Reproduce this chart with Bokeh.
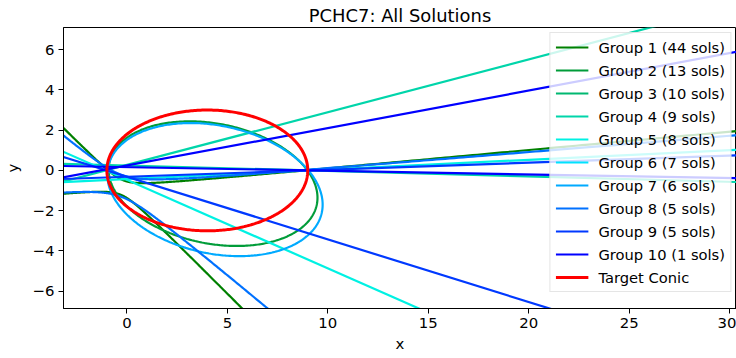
import numpy as np
from bokeh.plotting import figure
from bokeh.models import Range1d, FixedTicker, Legend, LegendItem
from bokeh.embed import file_html
from bokeh.resources import INLINE

TITLE = "PCHC7: All Solutions"
X_LABEL = "x"
Y_LABEL = "y"
X_TICKS = [0, 5, 10, 15, 20, 25, 30]
Y_TICKS = [-6, -4, -2, 0, 2, 4, 6]

GROUP_LABELS = ["Group 1 (44 sols)", "Group 2 (13 sols)", "Group 3 (10 sols)",
                "Group 4 (9 sols)", "Group 5 (8 sols)", "Group 6 (7 sols)",
                "Group 7 (6 sols)", "Group 8 (5 sols)", "Group 9 (5 sols)",
                "Group 10 (1 sols)"]
GROUP_COLORS = ["#008000", "#009c39", "#00b871", "#00d5aa", "#00f1e3",
                "#00e3ff", "#00aaff", "#0071ff", "#0039ff", "#0000ff"]

# degenerate (line-pair) solutions: y = slope * x + intercept
LINE_GROUP = [4, 4, 5, 5, 9, 9, 10, 10]
LINE_SLOPE = [0.262, -0.027, -0.44, 0.048, -0.311, 0.035, 0.186, -0.018]
LINE_INTERCEPT = [0.275, 0.243, -0.466, -0.432, -0.317, -0.315, 0.244, 0.162]

# hyperbola solutions: (y - m1 x - c1) * (y - m2 x - c2) = k
HYP_GROUP = [1, 8]
HYP_M1 = [-1.0, -0.83]
HYP_C1 = [-1.1, -1.0]
HYP_M2 = [0.0914, 0.0815]
HYP_C2 = [-0.823, -0.7335]
HYP_K = [0.15, 0.3]

# ellipse solutions: points
ELL_GROUP = [2, 7]
ELL_X = [
    [-1.05, 0.0, 1.66, 3.5, 8.15, 9.0, 9.44, 5.15, 3.65, 1.16, -0.83],
    [-1.05, 0.0, 1.66, 3.2, 6.65, 8.89, 9.64, 9.72, 8.64, 5.57, 3.65, 1.16, -0.67],
]
ELL_Y = [
    [0.05, 1.49, 2.24, 2.49, 0.83, 0.0, -1.48, -3.8, -3.55, -2.55, -0.56],
    [0.05, 1.45, 2.2, 2.4, 1.58, 0.25, -1.16, -1.81, -3.55, -4.21, -4.05, -3.13, -1.06],
]

# target conic
TARGET_LABEL = "Target Conic"
TARGET_CENTER = (4.0, 0.0)
TARGET_AXES = (5.0, 3.0)
TARGET_COLOR = "#ff0000"

FONT = "DejaVu Sans"
FS = "14.9px"

p = figure(width=736, height=358, output_backend="svg", toolbar_location=None,
           x_range=Range1d(-3.16, 30.345), y_range=Range1d(-6.86, 7.10),
           min_border_left=63, min_border_right=0, min_border_top=27,
           min_border_bottom=50)
p.background_fill_color = "white"
p.border_fill_color = "white"
p.outline_line_color = "black"
p.outline_line_width = 1
p.xgrid.visible = False
p.ygrid.visible = False

p.title.text = TITLE
p.title.align = "center"
p.title.text_font = FONT
p.title.text_font_size = "17.9px"
p.title.text_font_style = "normal"
p.title.text_color = "black"
p.title.standoff = 4

for ax, ticks in ((p.xaxis, X_TICKS), (p.yaxis, Y_TICKS)):
    ax.ticker = FixedTicker(ticks=ticks)
    ax.major_label_overrides = {t: str(t).replace("-", "\u2212") for t in ticks}
    ax.minor_tick_line_color = None
    ax.major_tick_in = 0
    ax.major_tick_out = 5
    ax.major_tick_line_color = "black"
    ax.axis_line_color = "black"
    ax.major_label_text_font = FONT
    ax.major_label_text_font_size = FS
    ax.major_label_text_color = "black"
    ax.axis_label_text_font = FONT
    ax.axis_label_text_font_size = FS
    ax.axis_label_text_font_style = "normal"
    ax.axis_label_text_color = "black"
    ax.major_label_standoff = 4
p.xaxis.axis_label = X_LABEL
p.yaxis.axis_label = Y_LABEL
p.xaxis.axis_label_standoff = 4
p.yaxis.axis_label_standoff = 8

LW = 2.2
group_renderers = {g: [] for g in range(1, 11)}


def fit_ellipse(xs, ys):
    xs = np.asarray(xs, float)
    ys = np.asarray(ys, float)
    D = np.column_stack([xs ** 2, xs * ys, ys ** 2, xs, ys, np.ones_like(xs)])
    a, b, c, d, e, f = np.linalg.svd(D)[2][-1]
    x0, y0 = np.linalg.solve([[2 * a, b], [b, 2 * c]], [-d, -e])
    f0 = d * x0 / 2 + e * y0 / 2 + f
    w, V = np.linalg.eigh(np.array([[a, b / 2], [b / 2, c]]))
    r = np.sqrt(np.abs(-f0 / w))
    t = np.linspace(0, 2 * np.pi, 400)
    pts = V @ np.vstack([r[0] * np.cos(t), r[1] * np.sin(t)])
    return x0 + pts[0], y0 + pts[1]


for g in range(1, 11):
    color = GROUP_COLORS[g - 1]
    for i, hg in enumerate(HYP_GROUP):
        if hg != g:
            continue
        m1, c1, m2, c2, k = HYP_M1[i], HYP_C1[i], HYP_M2[i], HYP_C2[i], HYP_K[i]
        for sgn in (1, -1):
            u = sgn * np.logspace(-3, 2.3, 900)
            v = k / u
            x = (u - v + c1 - c2) / (m2 - m1)
            y = u + m1 * x + c1
            r = p.line(x, y, line_color=color, line_width=LW)
            group_renderers[g].append(r)
    for i, eg in enumerate(ELL_GROUP):
        if eg != g:
            continue
        ex, ey = fit_ellipse(ELL_X[i], ELL_Y[i])
        r = p.line(ex, ey, line_color=color, line_width=LW)
        group_renderers[g].append(r)
    for i, lg in enumerate(LINE_GROUP):
        if lg != g:
            continue
        lx = np.array([-10.0, 40.0])
        ly = LINE_SLOPE[i] * lx + LINE_INTERCEPT[i]
        r = p.line(lx, ly, line_color=color, line_width=LW)
        group_renderers[g].append(r)
    if not group_renderers[g]:
        # group hidden under other curves: legend entry only
        r = p.line(np.array([np.nan]), np.array([np.nan]),
                   line_color=color, line_width=LW)
        group_renderers[g].append(r)

t = np.linspace(0, 2 * np.pi, 400)
tr = p.line(TARGET_CENTER[0] + TARGET_AXES[0] * np.cos(t),
            TARGET_CENTER[1] + TARGET_AXES[1] * np.sin(t),
            line_color=TARGET_COLOR, line_width=3.0)

items = [LegendItem(label=GROUP_LABELS[g - 1], renderers=[group_renderers[g][0]])
         for g in range(1, 11)]
items.append(LegendItem(label=TARGET_LABEL, renderers=[tr]))
legend = Legend(items=items, location="top_right")
legend.margin = 5
legend.padding = 5
legend.spacing = 5
legend.glyph_width = 33
legend.glyph_height = 18
legend.label_height = 18
legend.label_standoff = 10
legend.label_text_font = FONT
legend.label_text_font_size = "14.7px"
legend.label_text_color = "black"
legend.background_fill_color = "white"
legend.background_fill_alpha = 0.8
legend.border_line_color = "#cccccc"
legend.border_line_width = 1
p.add_layout(legend, "center")

open("out.html", "w").write(file_html(p, INLINE))
